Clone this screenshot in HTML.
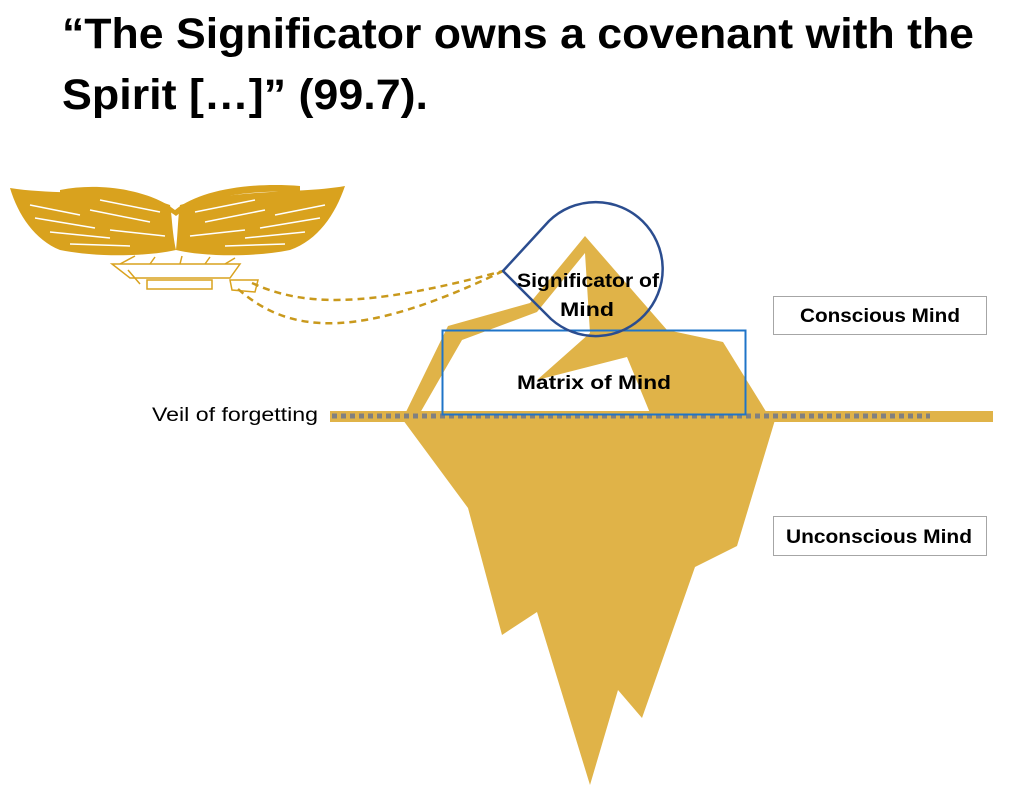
<!DOCTYPE html>
<html><head><meta charset="utf-8"><style>
html,body{margin:0;padding:0;background:#fff;}
svg{display:block;}
text{font-family:"Liberation Sans",sans-serif;}
</style></head><body>
<svg width="1024" height="789" viewBox="0 0 1024 789" xmlns="http://www.w3.org/2000/svg">
<text x="62" y="48" font-size="43" font-weight="bold" textLength="912" lengthAdjust="spacingAndGlyphs">“The Significator owns a covenant with the</text>
<text x="62" y="109" font-size="43" font-weight="bold" textLength="366" lengthAdjust="spacingAndGlyphs">Spirit […]” (99.7).</text>

<!-- wings -->
<g fill="#d9a21e">
<path d="M10,188 C60,196 120,188 170,205 C172,215 172,232 176,250 C150,256 100,258 60,250 C35,240 18,215 10,188Z"/>
<path d="M345,186 C300,194 240,188 180,205 C178,215 178,232 176,250 C200,256 250,258 290,250 C318,240 335,215 345,186Z"/>
<path d="M60,190 C100,182 150,190 175,210 C200,190 250,182 300,186 L300,192 C250,190 200,196 176,216 C150,196 100,190 60,196Z"/>
</g>
<g stroke="#fff" stroke-width="1.5" fill="none">
<path d="M30,205 L80,215 M35,218 L95,228 M50,232 L110,238 M70,244 L130,246 M90,210 L150,222 M100,200 L160,212 M110,230 L165,236"/>
<path d="M325,205 L275,215 M320,218 L260,228 M305,232 L245,238 M285,244 L225,246 M265,210 L205,222 M255,200 L195,212 M245,230 L190,236"/>
</g>
<g fill="none" stroke="#d9a21e" stroke-width="1.5">
<path d="M112,264 L240,264 L230,278 L130,278Z"/>
<rect x="147" y="280" width="65" height="9"/>
<path d="M128,270 L140,284 M230,280 L258,280 L255,292 L232,290Z"/>
<path d="M120,264 L135,256 M150,264 L155,257 M180,264 L182,256 M205,264 L210,257 M225,264 L235,258"/>
</g>
<!-- dashed connectors -->
<g fill="none" stroke="#c9991c" stroke-width="2.5" stroke-dasharray="7,5">
<path d="M252,283 C300,305 360,310 503,271"/>
<path d="M238,289 C290,335 360,340 503,271"/>
</g>

<!-- iceberg -->
<path fill="#e0b348" fill-rule="evenodd" d="M404,416 L448,326 L530,303 L585,236 L667,330 L723,342 L770,418 Z M420,413 L462,340 L537,312 L585,253 L590,333 L537,380 L627,357 L650,413 Z"/>
<path fill="#e0b348" d="M403,420 L468,508 L502,635 L537,612 L590,785 L618,690 L642,718 L695,567 L737,546 L775,420 Z"/>
<rect x="330" y="411" width="663" height="11" fill="#e0b348"/>
<line x1="332" y1="416" x2="930" y2="416" stroke="#808080" stroke-width="5" stroke-dasharray="5,4"/>

<!-- matrix rect -->
<rect x="442.5" y="330.5" width="303" height="84" fill="none" stroke="#1f74c8" stroke-width="2"/>
<text x="517" y="389" font-size="19" font-weight="bold" textLength="154" lengthAdjust="spacingAndGlyphs">Matrix of Mind</text>

<!-- teardrop -->
<path d="M503,271 L549,221 A67,67 0 1 1 551,319 Z" fill="none" stroke="#2b4d8f" stroke-width="2.5" stroke-linejoin="round"/>
<text x="517" y="287" font-size="19" font-weight="bold" textLength="142" lengthAdjust="spacingAndGlyphs">Significator of</text>
<text x="560" y="316" font-size="19" font-weight="bold" textLength="54" lengthAdjust="spacingAndGlyphs">Mind</text>

<!-- label boxes -->
<rect x="773.5" y="296.5" width="213" height="38" fill="#fff" stroke="#a6a6a6" stroke-width="1"/>
<text x="800" y="322" font-size="19" font-weight="bold" textLength="160" lengthAdjust="spacingAndGlyphs">Conscious Mind</text>
<rect x="773.5" y="516.5" width="213" height="39" fill="#fff" stroke="#a6a6a6" stroke-width="1"/>
<text x="786" y="543" font-size="19" font-weight="bold" textLength="186" lengthAdjust="spacingAndGlyphs">Unconscious Mind</text>

<text x="152" y="421" font-size="19" textLength="166" lengthAdjust="spacingAndGlyphs">Veil of forgetting</text>
</svg>
</body></html>
